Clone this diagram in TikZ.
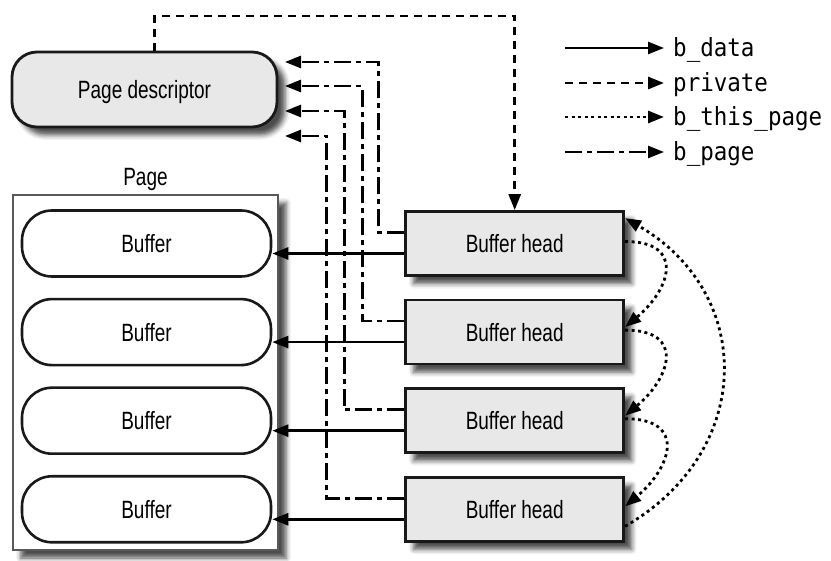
\documentclass[tikz,border=0pt]{standalone}
\usepackage{fontspec}
\usetikzlibrary{positioning,arrows.meta,calc,shadows.blur}
\newfontfamily\condsans[FakeStretch=0.76]{Liberation Sans}
\newfontfamily\legmono[FakeStretch=0.9]{DejaVu Sans Mono}

\begin{document}
\begin{tikzpicture}[
      x=1pt, y=1pt,
      font=\condsans\fontsize{25}{30}\selectfont,
      softshadow/.style={blur shadow={shadow xshift=8pt, shadow yshift=-8pt,
                   shadow blur radius=5pt, shadow opacity=70}},
      pdesc/.style={draw=black!90, line width=2.8pt, rounded corners=25pt, fill=black!9,
                   minimum width=265pt, minimum height=75pt, inner sep=0pt,
                   text depth=1pt, softshadow},
      buf/.style={draw=black!90, line width=2.6pt, rounded corners=30pt, fill=white,
                   minimum width=249pt, minimum height=66pt, inner sep=0pt},
      bhead/.style={draw=black!90, line width=2.8pt, fill=black!9, minimum width=218pt,
                   minimum height=64pt, inner sep=0pt, softshadow},
      pagebox/.style={draw=black!65, line width=1.6pt, fill=white, minimum width=265pt,
                   minimum height=355pt, inner sep=0pt, softshadow},
      lbl/.style={font=\legmono\fontsize{25}{30}\selectfont, anchor=west, inner sep=0pt,
                   text height=20pt, text depth=2pt},
      arrowtip/.style={-{Triangle[length=16pt, width=12pt]}},
      bdata/.style={arrowtip, line width=2.6pt},
      private/.style={arrowtip, line width=2.8pt, dash pattern=on 8pt off 6pt},
      thispage/.style={arrowtip, line width=2.8pt, dash pattern=on 3pt off 3.5pt},
      bpage/.style={arrowtip, line width=2.6pt, dash pattern=on 17pt off 5pt on 5pt off 5pt},
    ]
    \useasboundingbox (0,0) rectangle (831,-561);

    % ---------- page descriptor ----------
    \node[pdesc] (pd) at (144.5,-89.5) {Page descriptor};

    % ---------- page with its buffers ----------
    \node[pagebox] (page) at (145.5,-372.5) {};
    \node[above=0pt of page] (pagelbl) {Page};
    \node[buf] (b1) at (146.5,-243.5) {Buffer};
    \node[buf, below=20pt of b1] (b2) {Buffer};
    \node[buf, below=20pt of b2] (b3) {Buffer};
    \node[buf, below=20pt of b3] (b4) {Buffer};

    % ---------- buffer heads ----------
    \node[bhead, right=132pt of b1] (h1) {Buffer head};
    \node[bhead, right=132pt of b2] (h2) {Buffer head};
    \node[bhead, right=132pt of b3] (h3) {Buffer head};
    \node[bhead, right=132pt of b4] (h4) {Buffer head};

    % b_data
    \draw[bdata] ([yshift=-10pt]h1.west) -- ([yshift=-10pt]b1.east);
    \draw[bdata] ([yshift=-10pt]h2.west) -- ([yshift=-10pt]b2.east);
    \draw[bdata] ([yshift=-10pt]h3.west) -- ([yshift=-10pt]b3.east);
    \draw[bdata] ([yshift=-10pt]h4.west) -- ([yshift=-10pt]b4.east);

    % b_page
    \coordinate (pin1) at (285,-62);
    \coordinate (pin2) at (285,-86);
    \coordinate (pin3) at (285,-111);
    \coordinate (pin4) at (285,-136);
    \draw[bpage] ([yshift=11pt]h1.west) -- ++(-26,0) |- (pin1);
    \draw[bpage] ([yshift=11pt]h2.west) -- ++(-42,0) |- (pin2);
    \draw[bpage] ([yshift=11pt]h3.west) -- ++(-60,0) |- (pin3);
    \draw[bpage] ([yshift=11pt]h4.west) -- ++(-78,0) |- (pin4);

    % private
    \coordinate (ptop) at (0,-16);
    \draw[private] ([xshift=10pt]pd.north) |- (h1.north |- ptop) -- (h1.north);

    % b_this_page
    \draw[thispage] ([yshift=2pt]h1.east) to[out=0, in=40, looseness=1.8] ([yshift=5pt]h2.east);
    \draw[thispage] ([yshift=2pt]h2.east) to[out=0, in=40, looseness=1.8] ([yshift=5pt]h3.east);
    \draw[thispage] ([yshift=2pt]h3.east) to[out=0, in=40, looseness=1.8] ([yshift=3pt]h4.east);
    \draw[thispage] ([yshift=-17pt]h4.east) to[out=30, in=-30, looseness=1.25] ([yshift=-8pt]h1.north east);

    % ---------- legend ----------
    \node[lbl] (kdata) at (673,-48) {b\_data};
    \node[lbl] (kpriv) at (673,-83) {private};
    \node[lbl] (kthis) at (673,-117) {b\_this\_page};
    \node[lbl] (kpage) at (673,-152) {b\_page};
    \coordinate (sdata) at (565,-48);
    \coordinate (spriv) at (565,-83);
    \coordinate (sthis) at (565,-117);
    \coordinate (spage) at (565,-152);
    \draw[bdata, shorten >=9pt] (sdata) -- (kdata.west);
    \draw[private, shorten >=9pt] (spriv) -- (kpriv.west);
    \draw[thispage, shorten >=9pt] (sthis) -- (kthis.west);
    \draw[bpage, shorten >=9pt] (spage) -- (kpage.west);
  \end{tikzpicture}
\end{document}
